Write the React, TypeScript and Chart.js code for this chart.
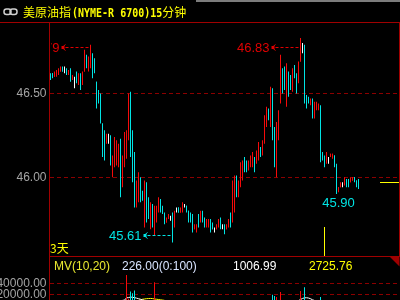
import React, { useEffect, useRef } from 'react';
import { Chart, registerables } from 'chart.js';

Chart.register(...registerables);

// ---------- data ----------
const titleName = '美原油指';
const titleCode = '(NYME-R 6700)15';
const titleUnit = '分钟';
const periodLabel = '3天';
const volumeTitle = 'MV(10,20)';
const volumeNow = '226.00(0:100)';
const ma10Text = '1006.99';
const ma20Text = '2725.76';

const slotCount = 175;

const opens = [
  46.61, 46.62, 46.60, 46.61, 46.62, 46.63, 46.65, 46.64, 46.64, 46.62,
  46.63, 46.58, 46.58, 46.62, 46.57, 46.61, 46.56, 46.63, 46.72, 46.66,
  46.68, 46.73, 46.68, 46.57, 46.50, 46.46, 46.32, 46.20, 46.21, 46.23,
  46.24, 46.02, 46.10, 46.09, 46.08, 46.18, 45.95, 46.08, 46.14, 46.25,
  46.47, 46.20, 46.02, 45.84, 45.88, 45.98, 45.91, 45.78, 45.95, 45.86,
  45.72, 45.82, 45.70, 45.75, 45.80, 45.86, 45.82, 45.78, 45.73, 45.75,
  45.76, 45.77, 45.71, 45.80, 45.82, 45.79, 45.80, 45.83, 45.83, 45.80,
  45.77, 45.76, 45.69, 45.68, 45.77, 45.74, 45.79, 45.75, 45.71, 45.71,
  45.74, 45.72, 45.69, 45.69, 45.71, 45.75, 45.71, 45.71, 45.69, 45.71,
  45.78, 45.74, 45.85, 46.00, 45.90, 45.96, 46.00, 46.10, 46.09, 46.05,
  46.07, 46.08, 46.11, 46.09, 46.12, 46.17, 46.14, 46.21, 46.32, 46.40,
  46.34, 46.50, 46.27, 46.08, 46.28, 46.45, 46.64, 46.63, 46.50, 46.62,
  46.60, 46.53, 46.66, 46.61, 46.57, 46.69, 46.77, 46.76, 46.48, 46.47,
  46.44, 46.46, 46.37, 46.41, 46.41, 46.42, 46.14, 46.12, 46.09, 46.10,
  46.12, 46.12, 46.13, 46.07, 45.92, 45.94, 45.96, 45.96, 45.98, 45.98,
  45.97, 45.98, 46.00, 45.98, 45.98,
];
const highs = [
  46.62, 46.62, 46.63, 46.64, 46.65, 46.66, 46.66, 46.66, 46.65, 46.64,
  46.65, 46.61, 46.60, 46.63, 46.62, 46.62, 46.63, 46.76, 46.73, 46.72,
  46.79, 46.74, 46.71, 46.57, 46.52, 46.50, 46.32, 46.28, 46.26, 46.26,
  46.25, 46.13, 46.24, 46.22, 46.20, 46.23, 46.13, 46.27, 46.28, 46.50,
  46.51, 46.28, 46.15, 45.98, 46.03, 46.00, 45.92, 45.98, 45.97, 45.88,
  45.85, 45.84, 45.83, 45.83, 45.88, 45.87, 45.83, 45.79, 45.76, 45.78,
  45.77, 45.79, 45.80, 45.82, 45.82, 45.82, 45.85, 45.84, 45.83, 45.80,
  45.79, 45.78, 45.72, 45.72, 45.78, 45.80, 45.80, 45.76, 45.75, 45.75,
  45.75, 45.73, 45.70, 45.72, 45.75, 45.76, 45.72, 45.72, 45.72, 45.75,
  45.79, 45.98, 46.01, 46.01, 45.98, 46.09, 46.10, 46.12, 46.10, 46.10,
  46.13, 46.15, 46.12, 46.16, 46.21, 46.18, 46.22, 46.37, 46.42, 46.41,
  46.54, 46.53, 46.30, 46.33, 46.40, 46.73, 46.65, 46.66, 46.68, 46.63,
  46.61, 46.65, 46.67, 46.62, 46.69, 46.83, 46.80, 46.79, 46.49, 46.48,
  46.47, 46.47, 46.45, 46.45, 46.44, 46.43, 46.15, 46.13, 46.15, 46.12,
  46.14, 46.14, 46.13, 46.08, 45.94, 45.97, 45.97, 46.00, 45.99, 45.99,
  46.00, 46.00, 46.00, 45.98, 45.99,
];
const lows = [
  46.58, 46.59, 46.60, 46.60, 46.61, 46.63, 46.63, 46.62, 46.61, 46.61,
  46.57, 46.58, 46.53, 46.56, 46.55, 46.52, 46.55, 46.63, 46.65, 46.63,
  46.65, 46.59, 46.62, 46.41, 46.44, 46.32, 46.12, 46.10, 46.20, 46.20,
  46.07, 46.00, 46.06, 46.07, 46.06, 45.88, 45.94, 46.06, 46.11, 46.22,
  46.12, 45.97, 45.82, 45.82, 45.85, 45.85, 45.86, 45.70, 45.73, 45.75,
  45.69, 45.70, 45.65, 45.73, 45.79, 45.79, 45.78, 45.72, 45.73, 45.75,
  45.74, 45.61, 45.70, 45.79, 45.79, 45.79, 45.79, 45.82, 45.79, 45.73,
  45.73, 45.67, 45.69, 45.67, 45.70, 45.73, 45.73, 45.70, 45.70, 45.70,
  45.67, 45.69, 45.67, 45.69, 45.70, 45.69, 45.69, 45.66, 45.69, 45.70,
  45.70, 45.73, 45.79, 45.88, 45.88, 45.94, 45.98, 46.03, 46.03, 46.04,
  46.06, 46.06, 46.03, 46.08, 46.10, 46.12, 46.13, 46.20, 46.30, 46.34,
  46.30, 46.22, 46.06, 46.00, 46.22, 46.44, 46.50, 46.52, 46.42, 46.48,
  46.52, 46.51, 46.59, 46.50, 46.56, 46.69, 46.74, 46.44, 46.41, 46.44,
  46.43, 46.35, 46.35, 46.40, 46.40, 46.09, 46.10, 46.06, 46.08, 46.08,
  46.12, 46.11, 46.06, 45.90, 45.91, 45.94, 45.94, 45.95, 45.94, 45.94,
  45.97, 45.98, 45.97, 45.94, 45.93,
];
const closes = [
  46.59, 46.60, 46.62, 46.63, 46.64, 46.65, 46.63, 46.64, 46.62, 46.63,
  46.58, 46.60, 46.58, 46.57, 46.61, 46.54, 46.62, 46.74, 46.66, 46.70,
  46.76, 46.62, 46.63, 46.43, 46.45, 46.33, 46.14, 46.12, 46.25, 46.23,
  46.09, 46.12, 46.22, 46.20, 46.18, 45.92, 46.10, 46.25, 46.26, 46.46,
  46.15, 46.00, 45.86, 45.96, 46.00, 45.87, 45.87, 45.95, 45.76, 45.77,
  45.83, 45.72, 45.80, 45.81, 45.86, 45.80, 45.79, 45.73, 45.75, 45.77,
  45.76, 45.71, 45.79, 45.80, 45.79, 45.81, 45.84, 45.83, 45.80, 45.74,
  45.74, 45.68, 45.71, 45.71, 45.72, 45.79, 45.74, 45.71, 45.74, 45.74,
  45.68, 45.69, 45.69, 45.71, 45.74, 45.70, 45.71, 45.67, 45.71, 45.74,
  45.72, 45.95, 45.98, 45.90, 45.96, 46.07, 46.08, 46.04, 46.04, 46.09,
  46.12, 46.14, 46.05, 46.15, 46.19, 46.13, 46.21, 46.35, 46.40, 46.35,
  46.50, 46.25, 46.10, 46.30, 46.38, 46.68, 46.52, 46.54, 46.64, 46.50,
  46.53, 46.63, 46.60, 46.52, 46.67, 46.80, 46.77, 46.47, 46.42, 46.45,
  46.46, 46.37, 46.44, 46.44, 46.43, 46.12, 46.11, 46.08, 46.13, 46.10,
  46.14, 46.14, 46.07, 45.93, 45.94, 45.96, 45.96, 45.99, 45.95, 45.95,
  45.99, 46.00, 45.98, 45.95, 45.97,
];
const volumes = [
  2100, 1800, 2500, 1900, 2300, 1500, 1700, 1200, 1600, 1400,
  2800, 1900, 2400, 2000, 2200, 3100, 2600, 5200, 3300, 2900,
  6100, 4800, 3900, 8200, 6400, 7600, 9100, 8800, 5200, 4100,
  7300, 6900, 7800, 6200, 5400, 9300, 7100, 8400, 55000, 12000,
  25000, 22000, 27000, 8700, 9200, 7800, 6100, 8900, 7400, 5600,
  6800, 5900, 42000, 6300, 4200, 3800, 3100, 4500, 2600, 2200,
  1900, 5600, 3400, 2100, 1800, 2300, 2600, 1500, 1900, 2800,
  2400, 3600, 2100, 2500, 2700, 2300, 2200, 1900, 1700, 1800,
  2500, 1600, 1400, 1700, 2000, 2300, 1500, 2100, 1800, 2000,
  2600, 7800, 6900, 4800, 4200, 5600, 5100, 3900, 3200, 3600,
  4100, 4400, 3800, 4700, 5300, 4200, 4900, 8100, 7400, 5200,
  9300, 19000, 17000, 15000, 8000, 24000, 7600, 6200, 8800, 5900,
  5100, 6400, 5300, 5800, 7200, 26000, 9000, 33000, 8400, 6100,
  5200, 7400, 6300, 4900, 4400, 15000, 5800, 3900, 3300, 2700,
  2400, 2100, 3100, 6800, 3500, 2600, 1900, 2200, 1800, 1600,
  1400, 1200, 1500, 900, 226,
];
// moving-average lines (only the parts that reach the visible band)
const ma10FirstStart = 36;
const ma10First = [9000, 9400, 13500, 14000, 15000, 14500, 14000, 13000, 12000, 11000, 10000, 9000];
const ma10SecondStart = 124;
const ma10Second = [8500, 10500, 12500, 13500, 13800, 13200, 12000, 10000, 8800];
const ma20Start = 44;
const ma20Values = [9000, 10000, 11000, 11500, 12000, 12300, 12500, 12200, 11500, 11000, 10500, 10000, 9500, 9000];

const priceTicks = [46.0, 46.5];
const volumeTicks = [20000, 40000];
const priceMin = 45.53;
const priceMax = 46.92;
const volMin = 9636;
const volMax = 58727;

// markers
const highMarkIndexLeft = 20;
const highMarkIndexRight = 125;
const lowMarkIndex = 61;
const lowLabelIndex = 143;
const dividerIndex = 137;

// ---------- styles ----------
const UP = '#f50a0a';
const DOWN = '#00e4e4';
const FLAT = '#ffffff';
const FRAME = '#a00000';
const GRID = '#8c0000';
const TICK = '#a4a4a4';
const YELLOW = '#ffff00';

const candleColor = (i: number) =>
  closes[i] > opens[i] ? UP : closes[i] < opens[i] ? DOWN : FLAT;

function sparse(len: number, parts: [number, number[]][]) {
  const arr: (number | null)[] = new Array(len).fill(null);
  parts.forEach(([s, vals]) => vals.forEach((v, k) => (arr[s + k] = v)));
  return arr;
}

function drawArrowLeft(ctx: CanvasRenderingContext2D, tipX: number, endX: number, y: number, color: string) {
  const yy = Math.round(y) + 0.5;
  ctx.save();
  ctx.strokeStyle = color;
  ctx.fillStyle = color;
  ctx.lineWidth = 1;
  ctx.setLineDash([3, 2]);
  ctx.beginPath();
  ctx.moveTo(tipX + 4, yy);
  ctx.lineTo(endX, yy);
  ctx.stroke();
  ctx.setLineDash([]);
  ctx.beginPath();
  ctx.moveTo(tipX + 4, yy - 3);
  ctx.lineTo(tipX + 0.5, yy);
  ctx.lineTo(tipX + 4, yy + 3);
  ctx.stroke();
  ctx.fillRect(tipX, yy - 1.5, 3, 3);
  ctx.restore();
}

const mainDecor = {
  id: 'mainDecor',
  afterDraw(chart: any) {
    const ctx: CanvasRenderingContext2D = chart.ctx;
    const { right, top, bottom } = chart.chartArea;
    const xs = chart.scales.x;
    const ys = chart.scales.y;
    ctx.save();
    // top gray strip
    ctx.fillStyle = '#7c7c7c';
    ctx.fillRect(196, 0, 204, 2);
    // frame
    ctx.fillStyle = FRAME;
    ctx.fillRect(0, 22, 400, 1);
    ctx.fillRect(49, 22, 1, 235);
    ctx.fillRect(399, 22, 1, 235);
    ctx.fillRect(49, 256, 351, 1);
    // link icon
    ctx.strokeStyle = '#cfcfcf';
    ctx.lineWidth = 1.5;
    ctx.beginPath();
    ctx.roundRect(4, 9, 7, 5.5, 2.5);
    ctx.stroke();
    ctx.beginPath();
    ctx.roundRect(10, 9, 7, 5.5, 2.5);
    ctx.stroke();
    // title
    ctx.fillStyle = YELLOW;
    ctx.textBaseline = 'alphabetic';
    ctx.textAlign = 'left';
    let tx = 23;
    ctx.font = '12px "Noto Sans CJK SC"';
    ctx.fillText(titleName, tx, 17);
    tx += ctx.measureText(titleName).width + 1;
    ctx.font = 'bold 10px "DejaVu Sans Mono"';
    ctx.save();
    ctx.translate(tx, 17);
    ctx.scale(1, 1.3);
    ctx.fillText(titleCode, 0, 0);
    ctx.restore();
    tx += ctx.measureText(titleCode).width;
    ctx.font = '12px "Noto Sans CJK SC"';
    ctx.fillText(titleUnit, tx, 17);

    // markers
    ctx.font = '13px "Liberation Sans"';
    ctx.textBaseline = 'middle';
    const markTop = top + 23.5;
    const markBottom = bottom - 21.5;

    [highMarkIndexLeft, highMarkIndexRight].forEach((i) => {
      const px = xs.getPixelForValue(i);
      const py = Math.max(ys.getPixelForValue(highs[i]), markTop);
      const tipX = px - 29;
      drawArrowLeft(ctx, tipX, px - 1, py, '#e00000');
      ctx.save();
      ctx.beginPath();
      ctx.rect(51, top, right - 51, bottom - top);
      ctx.clip();
      ctx.fillStyle = '#e00000';
      ctx.textAlign = 'right';
      ctx.fillText(highs[i].toFixed(2), tipX - 2, Math.round(py) + 1.5);
      ctx.restore();
    });
    {
      const i = lowMarkIndex;
      const px = xs.getPixelForValue(i);
      const py = Math.min(ys.getPixelForValue(lows[i]), markBottom);
      const tipX = px - 29;
      drawArrowLeft(ctx, tipX, px - 1, py, DOWN);
      ctx.fillStyle = DOWN;
      ctx.textAlign = 'right';
      ctx.fillText(lows[i].toFixed(2), tipX - 2, Math.round(py) + 1.5);
    }
    {
      const i = lowLabelIndex;
      const px = xs.getPixelForValue(i);
      const py = ys.getPixelForValue(lows[i]);
      ctx.fillStyle = DOWN;
      ctx.textAlign = 'center';
      ctx.fillText(lows[i].toFixed(2), px + 2, py + 9);
    }
    ctx.fillStyle = YELLOW;
    ctx.textAlign = 'left';
    ctx.textBaseline = 'alphabetic';
    ctx.font = '12px "Noto Sans CJK SC"';
    ctx.fillText(periodLabel, 50, 253);
    ctx.fillStyle = YELLOW;
    ctx.fillRect(Math.floor(xs.getPixelForValue(dividerIndex)), bottom - 29, 1, 29);
    const lastY = Math.round(ys.getPixelForValue(closes[closes.length - 1]));
    ctx.fillRect(380, lastY, 19, 1);
    ctx.restore();
  },
};

const volDecor = {
  id: 'volDecor',
  afterDraw(chart: any) {
    const ctx: CanvasRenderingContext2D = chart.ctx;
    ctx.save();
    ctx.fillStyle = FRAME;
    ctx.fillRect(49, 0, 1, 43);
    ctx.beginPath();
    ctx.moveTo(390, 0);
    ctx.lineTo(399.5, 0);
    ctx.lineTo(399.5, 9.5);
    ctx.closePath();
    ctx.fill();
    ctx.font = '12px "Liberation Sans"';
    ctx.textBaseline = 'middle';
    ctx.textAlign = 'left';
    ctx.fillStyle = '#e8e830';
    ctx.fillText(volumeTitle, 54, 10);
    ctx.fillStyle = '#d8e4ff';
    ctx.fillText(volumeNow, 122, 10);
    ctx.fillStyle = '#ffffff';
    ctx.fillText(ma10Text, 233, 10);
    ctx.fillStyle = YELLOW;
    ctx.fillText(ma20Text, 309, 10);
    ctx.restore();
  },
};

export default function App() {
  const mainRef = useRef<HTMLCanvasElement>(null);
  const volRef = useRef<HTMLCanvasElement>(null);

  useEffect(() => {
    document.body.style.margin = '0';
    document.body.style.background = '#000';
    const labels = Array.from({ length: slotCount }, (_, i) => String(i));
    const colors = opens.map((_, i) => candleColor(i));

    const yAxisCommon = (min: number, max: number, ticks: number[]) => ({
      position: 'left' as const,
      min,
      max,
      afterFit: (s: any) => {
        s.width = 49.5;
        s.paddingTop = 0;
        s.paddingBottom = 0;
      },
      afterBuildTicks: (s: any) => {
        s.ticks = ticks.map((v) => ({ value: v }));
      },
      ticks: {
        color: TICK,
        padding: 3,
        font: { family: 'Liberation Sans', size: 12 },
        callback: (v: any) => Number(v).toFixed(2),
      },
      grid: { color: GRID, drawTicks: false, lineWidth: 1 },
      border: { display: false, dash: [4, 3] },
    });

    const main = new Chart(mainRef.current!, {
      type: 'bar',
      data: {
        labels,
        datasets: [
          {
            label: 'range',
            data: lows.map((l, i) => [l, highs[i]]) as any,
            backgroundColor: colors,
            barThickness: 1,
            inflateAmount: 0,
            grouped: false,
            borderWidth: 0,
          } as any,
          {
            label: 'body',
            data: opens.map((o, i) => [Math.min(o, closes[i]), Math.max(o, closes[i])]) as any,
            backgroundColor: colors,
            barThickness: 1,
            inflateAmount: 0,
            grouped: false,
            borderWidth: 0,
          } as any,
        ],
      },
      options: {
        responsive: false,
        animation: false,
        events: [],
        layout: { padding: { top: 23, bottom: 1, left: 0, right: 0.5 } },
        plugins: { legend: { display: false }, tooltip: { enabled: false } },
        scales: {
          x: { type: 'category', display: false, offset: true },
          y: yAxisCommon(priceMin, priceMax, priceTicks) as any,
        },
      },
      plugins: [mainDecor],
    });

    const vol = new Chart(volRef.current!, {
      type: 'bar',
      data: {
        labels,
        datasets: [
          {
            type: 'bar',
            label: 'volume',
            data: volumes,
            backgroundColor: colors,
            barThickness: 1,
            inflateAmount: 0,
            borderWidth: 0,
          } as any,
          {
            type: 'line',
            label: 'MA10',
            data: sparse(volumes.length, [
              [ma10FirstStart, ma10First],
              [ma10SecondStart, ma10Second],
            ]),
            borderColor: '#ffffff',
            borderWidth: 1,
            pointRadius: 0,
            spanGaps: false,
          } as any,
          {
            type: 'line',
            label: 'MA20',
            data: sparse(volumes.length, [[ma20Start, ma20Values]]),
            borderColor: YELLOW,
            borderWidth: 1,
            pointRadius: 0,
            spanGaps: false,
          } as any,
        ],
      },
      options: {
        responsive: false,
        animation: false,
        events: [],
        layout: { padding: { top: 16, bottom: 0, left: 0, right: 0.5 } },
        plugins: { legend: { display: false }, tooltip: { enabled: false } },
        scales: {
          x: { type: 'category', display: false, offset: true },
          y: yAxisCommon(volMin, volMax, volumeTicks) as any,
        },
      },
      plugins: [volDecor],
    });

    return () => {
      main.destroy();
      vol.destroy();
    };
  }, []);

  return (
    <div
      style={{
        position: 'fixed',
        left: 0,
        top: 0,
        width: 400,
        height: 300,
        background: '#000',
        overflow: 'hidden',
      }}
    >
      <canvas
        ref={mainRef}
        width={400}
        height={257}
        style={{ position: 'absolute', left: 0, top: 0, width: 400, height: 257 }}
      />
      <canvas
        ref={volRef}
        width={400}
        height={43}
        style={{ position: 'absolute', left: 0, top: 257, width: 400, height: 43 }}
      />
    </div>
  );
}
